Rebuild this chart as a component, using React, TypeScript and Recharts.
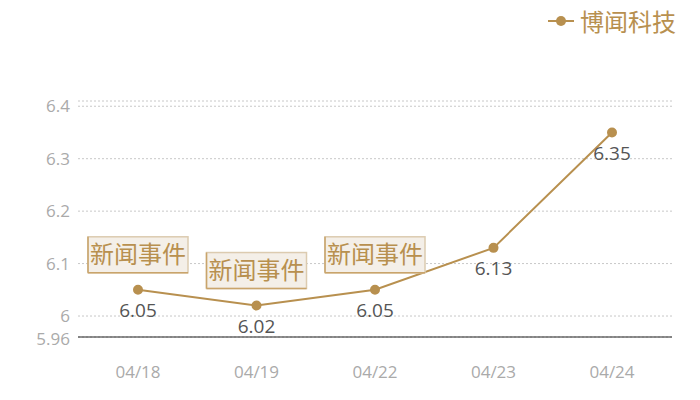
import React from 'react';
import { LineChart, Line, XAxis, YAxis, CartesianGrid, LabelList } from 'recharts';

const dates = ['04/18', '04/19', '04/22', '04/23', '04/24'];
const prices = [6.05, 6.02, 6.05, 6.13, 6.35];
const events = ['新闻事件', '新闻事件', '新闻事件', '', ''];
const yTicks = [5.96, 6, 6.1, 6.2, 6.3, 6.4, 6.41];
const seriesName = '博闻科技';

const GOLD = '#b8904f';
const FONT = "'Open Sans', 'Noto Sans CJK SC', sans-serif";

const data = dates.map((d, i) => ({ date: d, price: prices[i], event: events[i] }));

function EventTag(props: any) {
  const { x, y, value } = props;
  if (!value) return null;
  const w = 100;
  const h = 36;
  const left = x - w / 2;
  const top = y - 53;
  return (
    <g>
      <rect x={left} y={top} width={w} height={h} fill="#f4efe8" stroke="#dccbb0" strokeWidth={1.5} />
      <line x1={left} y1={top} x2={left} y2={top + h} stroke="#c9a46b" strokeWidth={1.5} />
      <line x1={left} y1={top + h} x2={left + w} y2={top + h} stroke="#c9a46b" strokeWidth={1.5} />
      <text x={x} y={top + h / 2 + 8} textAnchor="middle" fill={GOLD} fontSize={24} fontFamily={FONT}>
        {value}
      </text>
    </g>
  );
}

// y tick: nudge the bottom (5.96) label down a touch so it clears "6"
function YTick(props: any) {
  const { x, y, payload } = props;
  const v = payload.value;
  if (v === 6.41) return null;
  return (
    <text x={x} y={y + (v === 5.96 ? 2 : 0)} dy="0.355em" textAnchor="end" fill="#aaa" fontSize={17} fontFamily={FONT}>
      {String(v)}
    </text>
  );
}

export default function App() {
  return (
    <div style={{ position: 'absolute', left: 0, top: 0, width: 700, height: 400, background: '#fff' }}>
      <div
        style={{
          position: 'absolute',
          top: 3,
          right: 24,
          display: 'flex',
          alignItems: 'center',
          fontFamily: FONT,
          zIndex: 2,
        }}
      >
        <svg width={28} height={14}>
          <line x1={0} y1={7} x2={26} y2={7} stroke={GOLD} strokeWidth={2} />
          <circle cx={13} cy={7} r={5} fill={GOLD} />
        </svg>
        <span style={{ color: GOLD, fontSize: 24, marginLeft: 4 }}>{seriesName}</span>
      </div>
      <LineChart width={700} height={400} data={data} margin={{ top: 101, right: 28, bottom: 33, left: 8 }}>
        <CartesianGrid vertical={false} stroke="#c8c8c8" strokeDasharray="2 2" />
        <XAxis
          dataKey="date"
          height={30}
          padding={{ left: 60, right: 60 }}
          axisLine={{ stroke: '#222', strokeWidth: 1.2 }}
          tickLine={false}
          tickMargin={23}
          tick={{ fill: '#aaa', fontSize: 17, fontFamily: FONT }}
        />
        <YAxis
          width={70}
          domain={[5.96, 6.41]}
          ticks={yTicks}
          interval={0}
          axisLine={false}
          tickLine={false}
          tick={YTick}
        />
        <Line
          type="linear"
          dataKey="price"
          name={seriesName}
          stroke={GOLD}
          strokeWidth={2}
          dot={{ r: 4, fill: GOLD, stroke: GOLD }}
          activeDot={false}
          isAnimationActive={false}
        >
          <LabelList dataKey="price" position="bottom" offset={14} fill="#555" fontSize={19} fontFamily={FONT} />
          <LabelList dataKey="event" content={EventTag} />
        </Line>
      </LineChart>
    </div>
  );
}
